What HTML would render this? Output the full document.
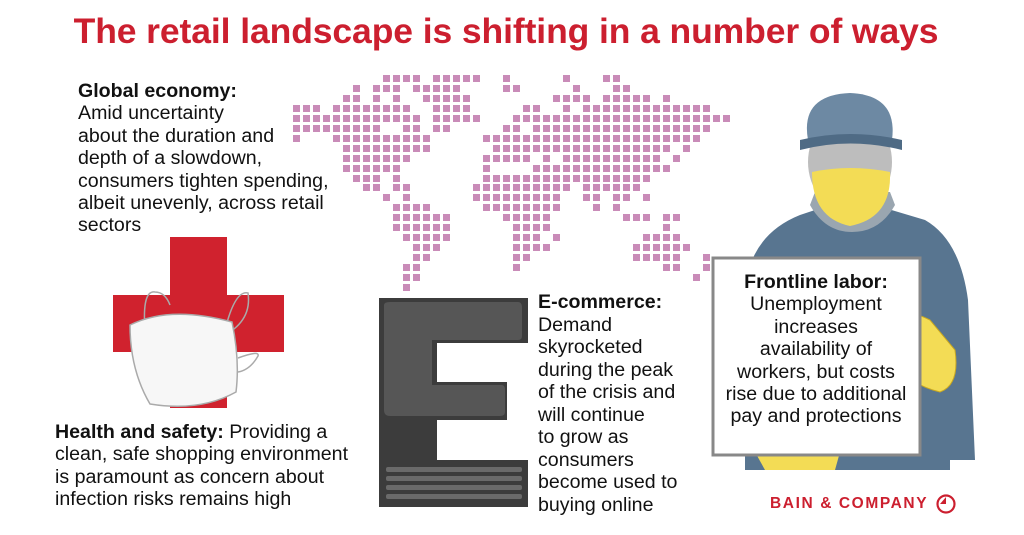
<!DOCTYPE html>
<html><head><meta charset="utf-8">
<style>
body{margin:0;width:1024px;height:535px;background:#fff;overflow:hidden;position:relative;font-family:"Liberation Sans",sans-serif;color:#111}
.t{position:absolute;font-size:19.6px;line-height:22.4px;white-space:nowrap}
b{font-weight:bold}
#title{position:absolute;left:0;width:1012px;top:11px;text-align:center;color:#cc1f2f;font-weight:bold;font-size:35.5px;letter-spacing:-0.1px}
.sq{position:absolute;width:7px;height:7px;background:#c98bb8}
</style></head><body>
<div id="title">The retail landscape is shifting in a number of ways</div>

<div id="map"></div>

<div class="t" style="left:78px;top:80px"><b>Global economy:</b><br>Amid uncertainty<br>about the duration and<br>depth of a slowdown,<br>consumers tighten spending,<br>albeit unevenly, across retail<br>sectors</div>

<svg style="position:absolute;left:0;top:0" width="1024" height="535">
 <g>
  <rect x="170" y="237" width="57" height="171" fill="#d0222e"/>
  <rect x="113" y="295" width="171" height="57" fill="#d0222e"/>
 </g>
 <g fill="none" stroke="#aaa" stroke-width="1.5">
  <path d="M145 330 Q142 290 155 292 Q165 292 170 305" />
  <path d="M225 330 Q235 290 248 293 Q252 320 225 335"/>
  <path d="M130 325 Q170 305 232 322 Q240 360 236 392 Q200 412 150 404 Q130 370 130 325Z" fill="#f7f7f7"/>
  <path d="M238 358 Q260 350 258 356 Q250 370 238 372"/>
 </g>
 <g>
  <path d="M379 298 H528 V343 H437 V382 H507 V420 H437 V460 H528 V507 H379Z" fill="#3c3c3c"/>
  <path d="M384 305 Q384 302 390 302 H518 Q522 302 522 308 V336 Q522 340 518 340 H432 V385 H502 Q505 385 505 390 V412 Q505 416 500 416 H390 Q384 416 384 410Z" fill="#565656"/>
  <g fill="#6a6a6a">
   <rect x="386" y="467" width="136" height="5" rx="2"/>
   <rect x="386" y="476" width="136" height="5" rx="2"/>
   <rect x="386" y="485" width="136" height="5" rx="2"/>
   <rect x="386" y="494" width="136" height="5" rx="2"/>
  </g>
 </g>
 <g>
  <path d="M745 470 V290 Q750 235 800 215 L830 205 H875 L925 220 Q960 240 968 300 L975 460 H950 V470Z" fill="#587590"/>
  <path d="M810 205 Q825 232 852 232 Q880 232 895 205 L890 192 H815Z" fill="#9aa6b0"/>
  <ellipse cx="850" cy="162" rx="42" ry="50" fill="#bdbdbd"/>
  <path d="M808 140 Q800 95 850 93 Q898 95 892 140 Z" fill="#6d89a3"/>
  <path d="M800 140 Q850 128 902 140 L902 150 Q850 137 800 150Z" fill="#4f6b85"/>
  <path d="M812 172 Q850 164 890 172 Q892 218 850 226 Q812 218 812 172Z" fill="#f3dc55"/>
  <path d="M885 320 Q900 305 930 320 L955 350 Q960 385 940 392 Q910 385 890 360 Z" fill="#f3dc55" stroke="#c9a820"/>
  <path d="M755 452 Q795 440 840 452 L835 470 H765Z" fill="#f3dc55"/>
  <rect x="713" y="258" width="207" height="197" fill="#fff" stroke="#888" stroke-width="3"/>
 </g>
 <g>
  <circle cx="946" cy="504" r="8.5" fill="none" stroke="#cc1f2f" stroke-width="2.2"/>
  <path d="M946 497 V504 H940Z" fill="#cc1f2f"/>
 </g>
</svg>

<div class="t" style="left:55px;top:421px"><b>Health and safety:</b> Providing a<br>clean, safe shopping environment<br>is paramount as concern about<br>infection risks remains high</div>

<div class="t" style="left:538px;top:291px;line-height:22.5px"><b>E-commerce:</b><br>Demand<br>skyrocketed<br>during the peak<br>of the crisis and<br>will continue<br>to grow as<br>consumers<br>become used to<br>buying online</div>

<div class="t" style="left:706px;width:220px;top:271px;text-align:center"><b>Frontline labor:</b><br>Unemployment<br>increases<br>availability of<br>workers, but costs<br>rise due to additional<br>pay and protections</div>

<div style="position:absolute;left:770px;top:495px;font-size:15.5px;font-weight:bold;color:#cc1f2f;letter-spacing:1.6px">BAIN &amp; COMPANY</div>

<script>
const mapRows=[
[[9,12],[14,18],[21,21],[27,27],[31,32]],
[[6,6],[8,10],[12,16],[21,22],[28,28],[32,33]],
[[5,6],[8,8],[10,10],[13,17],[26,29],[31,35],[37,37]],
[[0,2],[4,11],[14,17],[23,24],[27,27],[29,41]],
[[0,12],[14,18],[22,43]],
[[0,8],[11,12],[14,15],[21,22],[24,41]],
[[0,0],[4,13],[19,38],[39,40]],
[[5,13],[20,37],[39,39]],
[[5,11],[19,23],[25,25],[27,36],[38,38]],
[[5,10],[19,19],[24,37]],
[[6,8],[10,10],[19,35]],
[[7,8],[10,11],[18,27],[29,34]],
[[9,9],[11,11],[18,26],[29,30],[32,33],[35,35]],
[[10,13],[19,26],[30,30],[32,32]],
[[10,15],[21,25],[33,35],[37,38]],
[[10,15],[22,25],[37,37]],
[[11,15],[22,24],[26,26],[35,38]],
[[12,14],[22,25],[34,39]],
[[12,13],[22,23],[34,38],[41,41]],
[[11,12],[22,22],[37,38],[41,41]],
[[11,12],[40,40]],
[[11,11]]
];
const map=document.getElementById('map');
mapRows.forEach((row,r)=>{row.forEach(([a,b])=>{for(let c=a;c<=b;c++){
 const d=document.createElement('div');d.className='sq';
 d.style.left=(293+c*10)+'px';d.style.top=(75+r*9.95)+'px';
 
 
 map.appendChild(d);}});});
</script>
</body></html>
